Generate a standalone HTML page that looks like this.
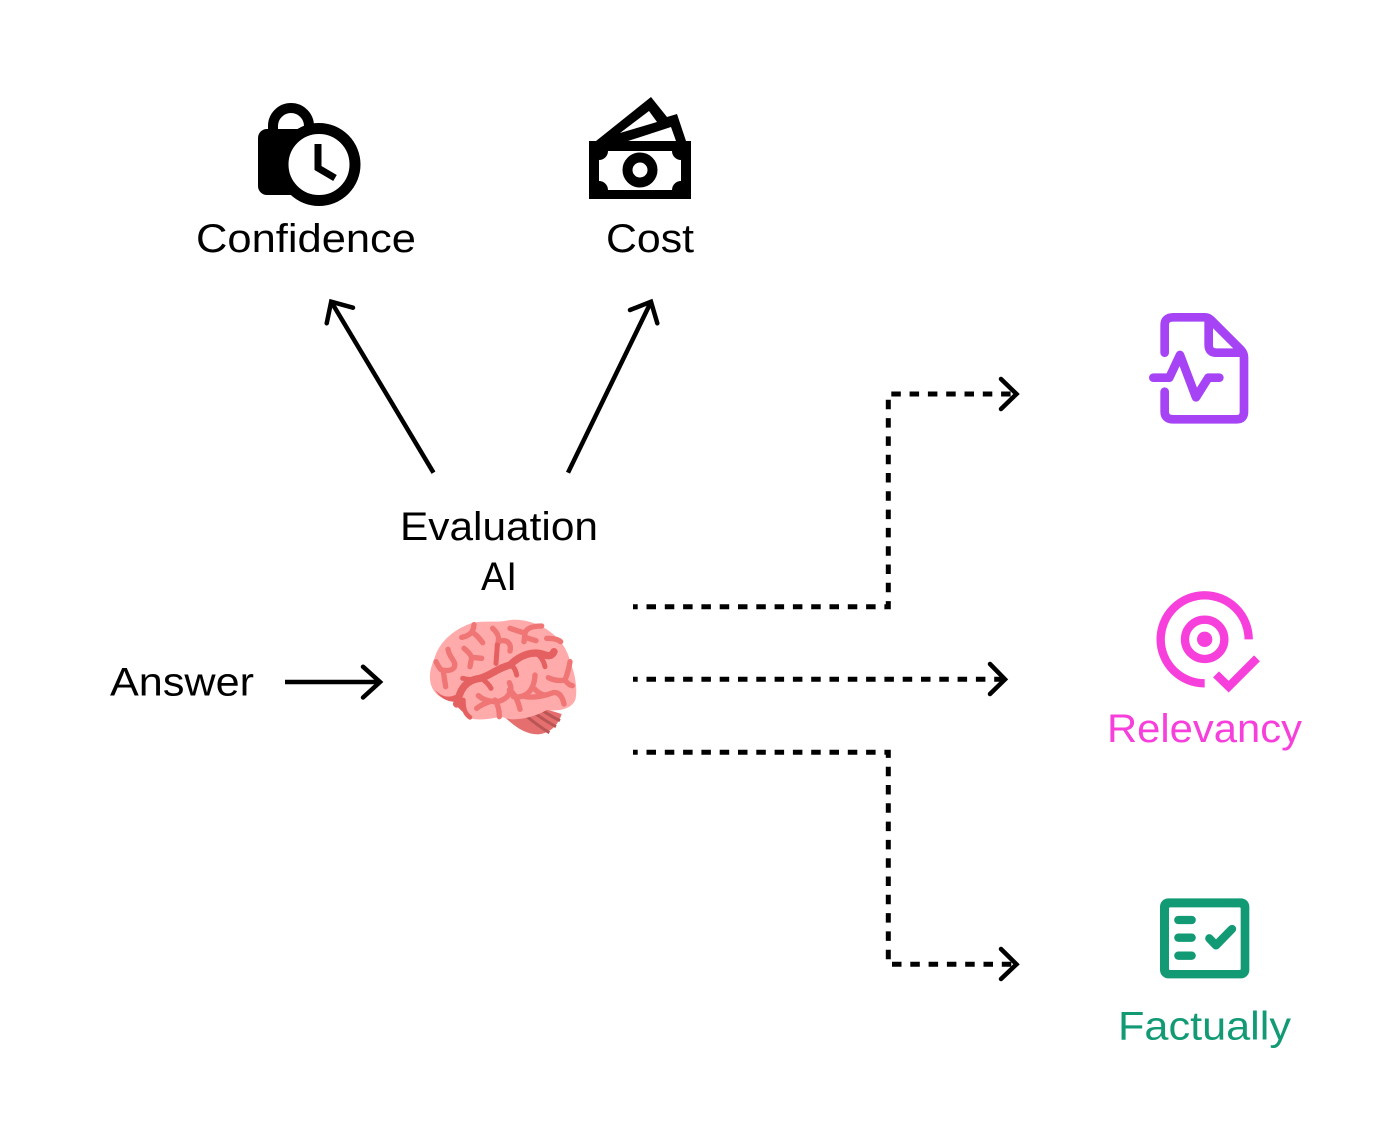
<!DOCTYPE html>
<html><head><meta charset="utf-8"><style>
html,body{margin:0;padding:0;background:#fff}
svg{display:block}
text{font-family:"Liberation Sans",sans-serif;font-size:40px;fill:#000}
</style></head><body>
<svg width="1400" height="1136" viewBox="0 0 1400 1136" xmlns="http://www.w3.org/2000/svg">
<rect width="1400" height="1136" fill="#fff"/>

<!-- lock clock -->
<path d="M273 135 V126 A18 18 0 0 1 309 126 V135" fill="none" stroke="#000" stroke-width="10"/>
<rect x="258" y="129" width="60" height="66" rx="9" fill="#000"/>
<circle cx="319" cy="164.500" r="36" fill="#fff" stroke="#000" stroke-width="11"/>
<polyline points="318,144 318,168 335,178" fill="none" stroke="#000" stroke-width="7"/>

<!-- money -->
<path d="M596 141 L651 97 L667 117 L677 114 L686 141 H691 V199 H589 V141 Z" fill="#000"/>
<polygon points="620,133 649,111 657,122" fill="#fff"/>
<polygon points="628,141 671,127 676,141" fill="#fff"/>
<path d="M608 151 H672 A9 9 0 0 0 681 160 V181 A9 9 0 0 0 672 190 H608 A9 9 0 0 0 599 181 V160 A9 9 0 0 0 608 151 Z" fill="#fff"/>
<circle cx="640" cy="170" r="12.500" fill="#fff" stroke="#000" stroke-width="10"/>

<!-- text -->
<text x="196" y="252" textLength="220" lengthAdjust="spacingAndGlyphs">Confidence</text>
<text x="606" y="252" textLength="88" lengthAdjust="spacingAndGlyphs">Cost</text>
<text x="400" y="540" textLength="198" lengthAdjust="spacingAndGlyphs">Evaluation</text>
<text x="481" y="590" textLength="36" lengthAdjust="spacingAndGlyphs">AI</text>
<text x="110" y="695.500" textLength="144" lengthAdjust="spacingAndGlyphs">Answer</text>
<text x="1107" y="742" textLength="195" lengthAdjust="spacingAndGlyphs" style="fill:#F73FDC">Relevancy</text>
<text x="1118" y="1039.500" textLength="173" lengthAdjust="spacingAndGlyphs" style="fill:#129A75">Factually</text>

<!-- solid arrows -->
<g fill="none" stroke="#000" stroke-width="4.500" stroke-linecap="butt">
<line x1="433.500" y1="472.700" x2="331.700" y2="302.500"/>
<line x1="568" y1="472.700" x2="650.700" y2="302.500"/>
<line x1="285" y1="682" x2="380" y2="682"/>
</g>
<g fill="none" stroke="#000" stroke-width="4.500" stroke-linecap="round" stroke-linejoin="miter">
<polyline points="326.700,323.300 331.200,301.700 353,307.700"/>
<polyline points="630,310 651,301.700 657.300,323.300"/>
<polyline points="363,666.700 380,682 363,697.500"/>
</g>

<!-- dashed -->
<g fill="none" stroke="#000" stroke-width="5" stroke-dasharray="9.500 8.800" stroke-dashoffset="4.800">
<polyline points="633,606.700 888.300,606.700 888.300,394 1014,394"/>
<line x1="633" y1="679.300" x2="1002" y2="679.300"/>
<polyline points="633,752.300 888.300,752.300 888.300,964.300 1014,964.300"/>
</g>
<g fill="none" stroke="#000" stroke-width="4.500" stroke-linecap="round">
<polyline points="1001,379 1016.500,394 1001,409"/>
<polyline points="990,664 1005,679.300 990,694"/>
<polyline points="1001,949 1016.500,964.300 1001,979"/>
</g>

<!-- brain -->
<g transform="translate(410 600) scale(.33333)">
<path d="M285 352 C320 385 350 403 385 403 C420 400 445 375 455 342 L400 325 Z" fill="#E56E6E"/>
<g fill="none" stroke="#B85555" stroke-width="9"><path d="M345 345 Q385 378 418 398"/><path d="M372 338 Q410 365 438 380"/><path d="M395 330 Q425 350 450 362"/></g>
<path d="M72 180 C85 125 135 85 190 68 C230 62 260 68 290 62 C330 52 390 70 420 95 C455 120 475 155 482 190 C497 225 502 270 497 295 C490 325 450 335 410 330 C385 345 345 358 310 358 C295 358 280 352 270 350 C240 358 210 360 190 357 C165 345 145 325 130 305 C100 300 75 285 65 260 C55 235 60 205 72 180 Z" fill="#FFABAB"/>
<path d="M75 270 C90 295 115 305 130 305 C145 325 165 345 190 357 C170 345 160 330 160 300 L135 285 C115 295 95 290 75 270 Z" fill="#E56060"/>
<g fill="none" stroke="#F07575" stroke-width="16" stroke-linecap="round" stroke-linejoin="round">
<path d="M114 148 C118 175 142 185 132 203 C122 215 100 212 92 208 M78 185 Q85 200 92 208 M100 215 L107 260"/>
<path d="M155 112 C175 108 190 100 192 74 M192 100 Q205 110 218 128"/>
<path d="M162 145 Q180 160 185 172 L180 200 M185 172 L215 175"/>
<path d="M248 85 C265 100 270 115 262 135 M265 125 C290 115 305 130 300 153"/>
<path d="M300 85 Q330 95 345 100 L342 125 M345 100 Q350 78 395 78 M345 112 L378 122"/>
<path d="M410 115 Q440 115 452 125"/>
<path d="M205 287 Q225 305 260 305 C290 300 312 275 298 248 M240 305 Q220 310 200 325 M255 300 Q268 320 268 350 M298 270 Q320 285 330 328 M310 290 C340 295 372 280 375 225 M375 268 Q390 285 410 285 M345 290 C380 295 410 285 430 278 C450 275 458 295 462 312"/>
<path d="M415 233 Q440 245 465 240 Q475 215 480 185 M465 240 Q475 255 487 257"/>
</g>
<g fill="none" stroke="#E56060" stroke-linecap="round" stroke-linejoin="round">
<path d="M140 312 C150 270 165 240 210 235 C245 225 260 205 300 195 C330 165 370 150 405 165 Q425 172 432 155" stroke-width="22"/>
<path d="M215 235 Q235 250 243 265 M300 195 Q315 200 320 225 M262 135 L258 190 M380 160 Q400 175 405 200 M158 235 Q180 240 200 240" stroke-width="15"/>
<path d="M160 300 C160 335 170 345 180 352" stroke-width="14"/>
</g>
</g>

<!-- purple doc -->
<g transform="translate(1130 300) scale(.33333)" fill="none" stroke="#A543F5" stroke-width="26" stroke-linecap="round" stroke-linejoin="round">
<path d="M104 158 V75 Q104 52 130 52 H225 Q235 52 243 60 L333 150 Q342 160 342 172 V335 Q342 358 320 358 H130 Q104 358 104 335 V275"/>
<path d="M236 57 V135 Q236 158 259 158 H335"/>
<path d="M70 233 H118 L150 165 L198 292 L235 233 H268"/>
</g>

<!-- pink target -->
<g transform="translate(1130 580) scale(.33333)" fill="none" stroke="#F73FDC" stroke-width="25">
<path d="M356 178 A132 132 0 1 0 224 310"/>
<circle cx="224" cy="178" r="59"/>
<circle cx="224" cy="178" r="23" fill="#F73FDC" stroke="none"/>
<polyline points="258,283 296,320 381,235"/>
</g>

<!-- green check -->
<g transform="translate(1140 885) scale(.33333)">
<rect x="60" y="40" width="268" height="240" rx="25" fill="#129A75"/>
<rect x="87" y="67" width="215" height="188" rx="3" fill="#fff"/>
<g fill="none" stroke="#129A75" stroke-linecap="round" stroke-linejoin="round">
<path d="M115 105 H155 M115 158 H155 M115 212 H155" stroke-width="25"/>
<path d="M208 160 L228 181 L276 132" stroke-width="25"/>
</g>
</g>
</svg>
</body></html>
